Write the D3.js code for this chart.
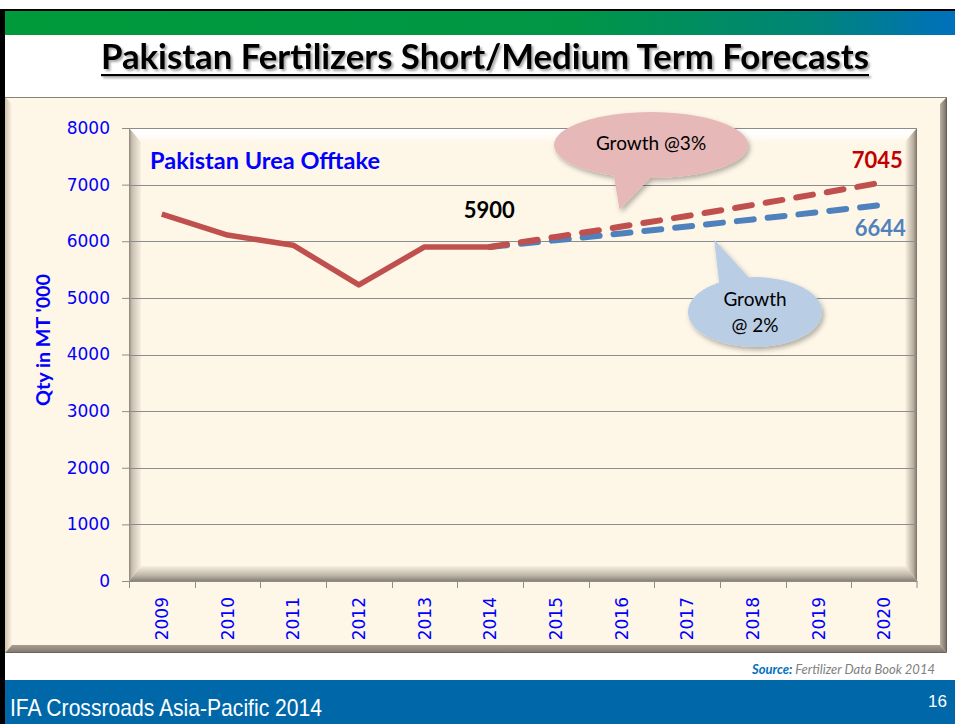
<!DOCTYPE html>
<html>
<head>
<meta charset="utf-8">
<script src="https://cdn.jsdelivr.net/npm/d3@7"></script>
<style>
  body { margin: 0; background: #fff; }
  svg { display: block; }
</style>
</head>
<body>
<div class="chart"></div>
<script>
// ---- data ----
var years = ["2009", "2010", "2011", "2012", "2013", "2014", "2015", "2016", "2017", "2018", "2019", "2020"];
var actualYears = ["2009", "2010", "2011", "2012", "2013", "2014"];
var offtake = [6480, 6110, 5930, 5230, 5900, 5900];
var forecastYears = ["2014", "2015", "2016", "2017", "2018", "2019", "2020"];
var growth3 = [5900, 6077, 6259, 6447, 6641, 6840, 7045];
var growth2 = [5900, 6018, 6138, 6261, 6386, 6514, 6644];
var yTicks = [0, 1000, 2000, 3000, 4000, 5000, 6000, 7000, 8000];

var W = 955, H = 724;
var calibri = "Lato, 'Open Sans', sans-serif";

var svg = d3.select(".chart").append("svg")
  .attr("width", W)
  .attr("height", H);

var defs = svg.append("defs");

function grad(id, x2, y2, stops) {
  var g = defs.append("linearGradient").attr("id", id)
    .attr("x1", 0).attr("y1", 0).attr("x2", x2).attr("y2", y2);
  stops.forEach(function(s) {
    g.append("stop").attr("offset", s[0]).attr("stop-color", s[1]);
  });
}
grad("band", 1, 0, [[0, "#009a3a"], [0.6, "#009646"], [0.85, "#008578"], [1, "#0070bd"]]);
grad("topBev", 0, 1, [[0, "#ffffff"], [0.6, "#fffdf8"], [1, "#fef6e7"]]);
grad("leftBev", 1, 0, [[0, "#8e857a"], [0.25, "#c9bfb1"], [1, "#f8efe0"]]);
grad("rightBev", 1, 0, [[0, "#fbf3e4"], [0.7, "#b8ad9f"], [1, "#7a7268"]]);
grad("botBev", 0, 1, [[0, "#f7eedf"], [0.6, "#c2b8aa"], [1, "#8a8176"]]);
grad("frameLeft", 1, 0, [[0, "#d3c3ae"], [1, "#fdf5e6"]]);
grad("frameRight", 1, 0, [[0, "#b9afa3"], [0.7, "#8a8177"], [1, "#5f5850"]]);
grad("frameBot", 0, 1, [[0, "#a79d91"], [0.8, "#877e74"], [1, "#5f5850"]]);

var shadow = defs.append("filter").attr("id", "shadow")
  .attr("x", "-20%").attr("y", "-20%").attr("width", "140%").attr("height", "150%");
shadow.append("feDropShadow").attr("dx", 2).attr("dy", 3)
  .attr("stdDeviation", 2.5).attr("flood-color", "#000").attr("flood-opacity", 0.3);

var titleShadow = defs.append("filter").attr("id", "tshadow");
titleShadow.append("feDropShadow").attr("dx", 2).attr("dy", 2)
  .attr("stdDeviation", 1).attr("flood-color", "#000").attr("flood-opacity", 0.35);

// ---- slide frame ----
svg.append("rect").attr("x", 0).attr("y", 9).attr("width", W).attr("height", 3).attr("fill", "#000");
svg.append("rect").attr("x", 0).attr("y", 11).attr("width", W).attr("height", 24).attr("fill", "url(#band)");
svg.append("rect").attr("x", 0).attr("y", 9).attr("width", 5).attr("height", H - 9).attr("fill", "#000");

// title
var title = svg.append("g").attr("filter", "url(#tshadow)");
title.append("text")
  .attr("x", 485).attr("y", 69)
  .attr("text-anchor", "middle")
  .attr("font-family", calibri)
  .attr("font-weight", "bold")
  .attr("font-size", 34)
  .attr("textLength", 768)
  .attr("lengthAdjust", "spacingAndGlyphs")
  .attr("fill", "#000")
  .text("Pakistan Fertilizers Short/Medium Term Forecasts");
title.append("rect").attr("x", 101).attr("y", 74).attr("width", 768).attr("height", 2.2).attr("fill", "#000");

// ---- chart frame ----
var fx0 = 5, fy0 = 97, fx1 = 947, fy1 = 653;
svg.append("rect").attr("x", fx0).attr("y", fy0).attr("width", fx1 - fx0).attr("height", fy1 - fy0)
  .attr("fill", "#fef6e7");
svg.append("polygon")
  .attr("points", [[fx0, fy0], [fx0 + 7, fy0 + 7], [fx0 + 7, fy1 - 8], [fx0, fy1]].join(" "))
  .attr("fill", "url(#frameLeft)");
svg.append("polygon")
  .attr("points", [[fx1, fy0], [fx1, fy1], [fx1 - 7, fy1 - 8], [fx1 - 7, fy0 + 7]].join(" "))
  .attr("fill", "url(#frameRight)");
svg.append("polygon")
  .attr("points", [[fx0, fy1], [fx1, fy1], [fx1 - 7, fy1 - 8], [fx0 + 7, fy1 - 8]].join(" "))
  .attr("fill", "url(#frameBot)");
svg.append("line").attr("x1", fx0).attr("x2", fx1).attr("y1", fy0 + 0.5).attr("y2", fy0 + 0.5)
  .attr("stroke", "#8a8177").attr("stroke-width", 1);

// ---- scales ----
var px0 = 129, px1 = 917, py0 = 128, py1 = 581;
var x = d3.scaleBand().domain(years).range([px0, px1]);
var y = d3.scaleLinear().domain([0, 8000]).range([py1, py0]);
var cx = function(d) { return x(d) + x.bandwidth() / 2; };

// ---- plot area with 3d bevel ----
var b = 12;
svg.append("rect").attr("x", px0).attr("y", py0).attr("width", px1 - px0).attr("height", py1 - py0)
  .attr("fill", "#fef6e7");
svg.append("polygon")
  .attr("points", [[px0, py0], [px1, py0], [px1 - b, py0 + 14], [px0 + b, py0 + 14]].join(" "))
  .attr("fill", "url(#topBev)");
svg.append("polygon")
  .attr("points", [[px0, py0], [px0 + b, py0 + 14], [px0 + b, py1 - 15], [px0, py1]].join(" "))
  .attr("fill", "url(#leftBev)");
svg.append("polygon")
  .attr("points", [[px1, py0], [px1, py1], [px1 - b, py1 - 15], [px1 - b, py0 + 14]].join(" "))
  .attr("fill", "url(#rightBev)");
svg.append("polygon")
  .attr("points", [[px0, py1], [px1, py1], [px1 - b, py1 - 15], [px0 + b, py1 - 15]].join(" "))
  .attr("fill", "url(#botBev)");

// gridlines
svg.append("g").selectAll("line")
  .data(yTicks.filter(function(d) { return d > 0; }))
  .enter().append("line")
  .attr("x1", px0).attr("x2", px1)
  .attr("y1", function(d) { return Math.round(y(d)) + 0.5; })
  .attr("y2", function(d) { return Math.round(y(d)) + 0.5; })
  .attr("stroke", "#8c8c8c").attr("stroke-width", 1);

// y axis
var yAxis = svg.append("g")
  .attr("transform", "translate(" + px0 + ",0)")
  .call(d3.axisLeft(y).tickValues(yTicks).tickFormat(d3.format("d")).tickSize(7).tickPadding(12));
yAxis.select(".domain").remove();
yAxis.selectAll("line").attr("stroke", "#8c8c8c");
yAxis.selectAll("text")
  .attr("font-family", "'DejaVu Sans', Verdana, sans-serif")
  .attr("font-size", 17)
  .attr("fill", "#0000ff");

// x axis: labels at band centres, ticks at band edges
var xAxis = svg.append("g")
  .attr("transform", "translate(0," + py1 + ")")
  .call(d3.axisBottom(x).tickSize(0));
xAxis.select(".domain").attr("stroke", "#8c8c8c");
xAxis.selectAll("text")
  .attr("font-family", "'DejaVu Sans', Verdana, sans-serif")
  .attr("font-size", 17)
  .attr("fill", "#0000ff")
  .attr("text-anchor", "end")
  .attr("transform", "rotate(-90)")
  .attr("x", -16)
  .attr("y", 0)
  .attr("dy", "0.36em");
svg.append("g").selectAll("line")
  .data(years.concat(["end"]))
  .enter().append("line")
  .attr("x1", function(d) { return d === "end" ? px1 : Math.round(x(d)) + 0.5; })
  .attr("x2", function(d) { return d === "end" ? px1 : Math.round(x(d)) + 0.5; })
  .attr("y1", py1).attr("y2", py1 + 7)
  .attr("stroke", "#8c8c8c");

// y axis title
svg.append("text")
  .attr("transform", "translate(50,340)rotate(-90)")
  .attr("text-anchor", "middle")
  .attr("font-family", calibri)
  .attr("font-weight", "bold")
  .attr("font-size", 19)
  .attr("textLength", 132)
  .attr("lengthAdjust", "spacingAndGlyphs")
  .attr("fill", "#0000ff")
  .text("Qty in MT  '000");

// ---- lines ----
var lineFn = d3.line()
  .x(function(d) { return cx(d[0]); })
  .y(function(d) { return y(d[1]); });
var smoothFn = d3.line()
  .x(function(d) { return cx(d[0]); })
  .y(function(d) { return y(d[1]); })
  .curve(d3.curveMonotoneX);

svg.append("path")
  .datum(d3.zip(forecastYears, growth2))
  .attr("d", smoothFn)
  .attr("fill", "none")
  .attr("stroke", "#4f81bd")
  .attr("stroke-width", 6)
  .attr("stroke-linecap", "round")
  .attr("stroke-dasharray", "17,14");

svg.append("path")
  .datum(d3.zip(forecastYears, growth3))
  .attr("d", smoothFn)
  .attr("fill", "none")
  .attr("stroke", "#c0504d")
  .attr("stroke-width", 6)
  .attr("stroke-linecap", "round")
  .attr("stroke-dasharray", "17,14");

svg.append("path")
  .datum(d3.zip(actualYears, offtake))
  .attr("d", lineFn)
  .attr("fill", "none")
  .attr("stroke", "#c0504d")
  .attr("stroke-width", 5.5)
  .attr("stroke-linejoin", "round");

// ---- labels ----
function label(txt, xx, yy, color, size) {
  svg.append("text")
    .attr("x", xx).attr("y", yy)
    .attr("text-anchor", "middle")
    .attr("font-family", calibri)
    .attr("font-weight", "bold")
    .attr("font-size", size)
    .attr("fill", color)
    .text(txt);
}
svg.append("text")
  .attr("x", 150).attr("y", 169)
  .attr("font-family", calibri)
  .attr("font-weight", "bold")
  .attr("font-size", 22)
  .attr("textLength", 230)
  .attr("lengthAdjust", "spacingAndGlyphs")
  .attr("fill", "#0000ff")
  .text("Pakistan Urea Offtake");

label(offtake[5], cx("2014") - 1, y(offtake[5]) - 29, "#000", 22);
label(growth3[6], cx("2020") - 7, y(growth3[6]) - 14, "#c00000", 22);
label(growth2[6], cx("2020") - 4, y(growth2[6]) + 31, "#4f81bd", 22);

// ---- callouts ----
function callout(ex, ey, rx, ry, tail, fill, lines, lineY) {
  var g = svg.append("g").attr("filter", "url(#shadow)");
  g.append("polygon").attr("points", tail.join(" ")).attr("fill", fill);
  g.append("ellipse").attr("cx", ex).attr("cy", ey).attr("rx", rx).attr("ry", ry).attr("fill", fill);
  lines.forEach(function(t, i) {
    svg.append("text")
      .attr("x", ex).attr("y", lineY[i])
      .attr("text-anchor", "middle")
      .attr("font-family", calibri)
      .attr("font-size", 19)
      .attr("fill", "#000")
      .text(t);
  });
}

var tip3 = [cx("2016") - 2, y(growth3[2]) - 17];
callout(651, 145, 97, 33,
  [[612, 165], tip3, [652, 176]],
  "#e6b9b8", ["Growth @3%"], [150]);

var tip2 = [cx("2017") + 27, y(growth2[3]) + 13];
callout(755, 312, 67, 35,
  [tip2, [720, 290], [752, 281]],
  "#b9cde5", ["Growth", "@ 2%"], [306, 332]);

// ---- source & footer ----
var src = svg.append("text")
  .attr("x", 935).attr("y", 674)
  .attr("text-anchor", "end")
  .attr("font-family", calibri)
  .attr("font-style", "italic")
  .attr("font-size", 13);
src.append("tspan").attr("font-weight", "bold").attr("fill", "#0070c0").text("Source: ");
src.append("tspan").attr("fill", "#7f7f7f").text("Fertilizer Data Book 2014");

svg.append("rect").attr("x", 5).attr("y", 680).attr("width", W - 5).attr("height", 44).attr("fill", "#0068a9");
svg.append("text")
  .attr("x", 10).attr("y", 716)
  .attr("font-family", "'Liberation Sans Narrow', 'Arial Narrow', sans-serif")
  .attr("font-size", 24)
  .attr("textLength", 312)
  .attr("lengthAdjust", "spacingAndGlyphs")
  .attr("fill", "#fff")
  .text("IFA Crossroads Asia-Pacific 2014");
svg.append("text")
  .attr("x", 947).attr("y", 707)
  .attr("text-anchor", "end")
  .attr("font-family", "'Liberation Sans', Arial, sans-serif")
  .attr("font-size", 17)
  .attr("fill", "#fff")
  .text("16");
</script>
</body>
</html>
